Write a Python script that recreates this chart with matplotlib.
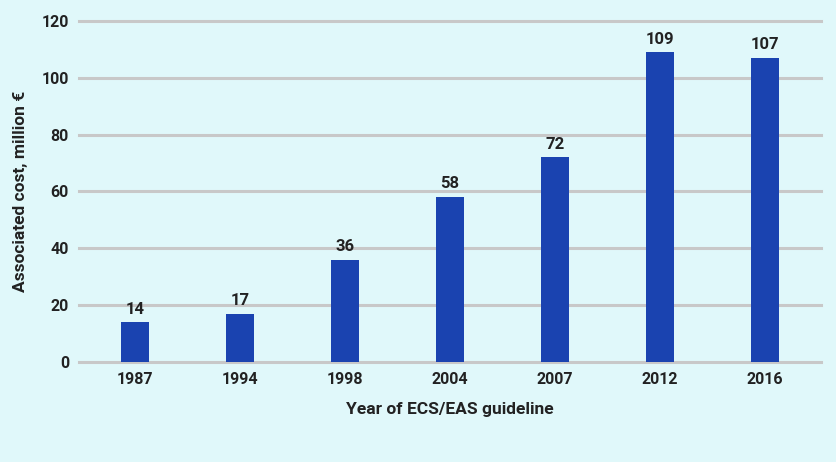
import matplotlib.pyplot as plt

# data
years = ["1987", "1994", "1998", "2004", "2007", "2012", "2016"]
costs = [14, 17, 36, 58, 72, 109, 107]

bg = "#e0f8fa"
plt.rcParams["font.family"] = ["Roboto", "DejaVu Sans"]

fig = plt.figure(figsize=(8.37, 4.62), dpi=100, facecolor=bg)
ax = fig.add_axes([0.094, 0.2165, 0.887, 0.738], facecolor=bg)

x = range(len(years))
ax.bar(x, costs, width=0.27, color="#1a43b0", zorder=3)
for xi, v in zip(x, costs):
    ax.text(xi, v + 2, str(v), ha="center", va="bottom",
            fontsize=12, fontweight="bold", color="#222222", zorder=4)

ax.set_ylim(0, 120)
ax.set_yticks(range(0, 121, 20))
ax.set_xlim(-0.535, len(years) - 0.465)
ax.set_xticks(list(x))
ax.set_xticklabels(years)
ax.yaxis.grid(True, color="#c8c8c8", linewidth=2.2, zorder=0)
ax.set_axisbelow(True)
for g in ax.get_ygridlines():
    g.set_clip_on(False)
for s in ax.spines.values():
    s.set_visible(False)
ax.tick_params(length=0, labelsize=11.5, colors="#222222", pad=7)
for lab in ax.get_xticklabels() + ax.get_yticklabels():
    lab.set_fontweight("bold")

ax.set_xlabel("Year of ECS/EAS guideline", fontsize=12.5, fontweight="bold",
              color="#222222", labelpad=11)
ax.set_ylabel("Associated cost, million €", fontsize=12.5, fontweight="bold",
              color="#222222")
ax.yaxis.set_label_coords(-0.068, 0.5)

fig.savefig("out.png", dpi=100, facecolor=bg)
